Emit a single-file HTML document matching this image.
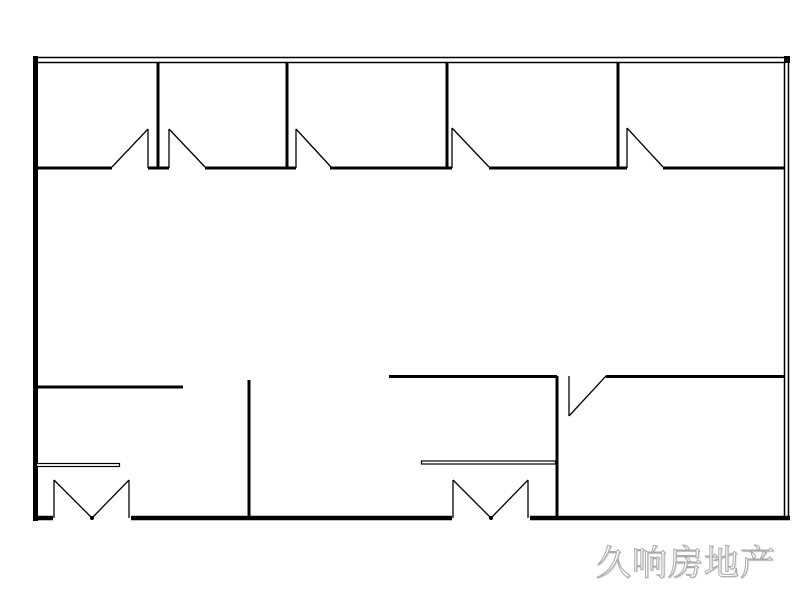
<!DOCTYPE html>
<html><head><meta charset="utf-8"><style>
html,body{margin:0;padding:0;background:#fff;width:800px;height:600px;overflow:hidden}
.wm{position:absolute;left:596px;top:536px;font-family:"Liberation Serif","Noto Serif CJK SC",serif;font-size:35px;color:#fff;-webkit-text-stroke:1px #aaa;letter-spacing:1px;text-shadow:1px 1px 1px #ccc}
</style></head><body>
<svg width="800" height="600" style="position:absolute;left:0;top:0">
<g stroke="#000" fill="none">
<!-- top double wall -->
<line x1="33" y1="57.5" x2="789" y2="57.5" stroke-width="1.5"/>
<line x1="38" y1="62.5" x2="784" y2="62.5" stroke-width="1.5"/>
<!-- right double wall -->
<line x1="784.5" y1="62" x2="784.5" y2="518" stroke-width="1.5"/>
<line x1="788.5" y1="57" x2="788.5" y2="520" stroke-width="1.5"/>
<rect x="784" y="56" width="6" height="7" fill="#000" stroke="none"/>
<!-- left wall -->
<line x1="35.5" y1="56" x2="35.5" y2="521" stroke-width="5"/>
<!-- corridor wall -->
<g stroke-width="3">
<line x1="35" y1="168" x2="112" y2="168"/>
<line x1="148" y1="168" x2="169" y2="168"/>
<line x1="205" y1="168" x2="287" y2="168"/>
<line x1="287" y1="168" x2="296" y2="168"/>
<line x1="330" y1="168" x2="452" y2="168"/>
<line x1="489" y1="168" x2="627" y2="168"/>
<line x1="663" y1="168" x2="784" y2="168"/>
<line x1="158" y1="62" x2="158" y2="168"/>
<line x1="287" y1="62" x2="287" y2="168"/>
<line x1="447" y1="62" x2="447" y2="168"/>
<line x1="618" y1="62" x2="618" y2="168"/>
</g>
<!-- door jambs/leaves top -->
<g stroke-width="1.3">
<line x1="148" y1="129" x2="148" y2="168"/><line x1="112" y1="167" x2="148" y2="129"/>
<line x1="169" y1="129" x2="169" y2="168"/><line x1="169" y1="129" x2="205" y2="167"/>
<line x1="296" y1="129" x2="296" y2="168"/><line x1="296" y1="129" x2="331" y2="167"/>
<line x1="452" y1="128" x2="452" y2="168"/><line x1="452" y1="128" x2="489" y2="167"/>
<line x1="627" y1="128" x2="627" y2="168"/><line x1="627" y1="128" x2="663" y2="167"/>
</g>
<!-- lower walls -->
<g stroke-width="3">
<line x1="35" y1="387" x2="183" y2="387"/>
<line x1="249" y1="380" x2="249" y2="518"/>
<line x1="389" y1="376.5" x2="557" y2="376.5"/>
<line x1="557" y1="376" x2="557" y2="518"/>
<line x1="606" y1="376.5" x2="784" y2="376.5"/>
</g>
<g stroke-width="4.5">
<line x1="33" y1="518" x2="53" y2="518"/>
<line x1="131" y1="518" x2="452" y2="518"/>
<line x1="530" y1="518" x2="790" y2="518"/>
</g>
<g stroke-width="1.3">
<line x1="569" y1="376" x2="569" y2="416"/><line x1="569" y1="416" x2="606" y2="376"/>
<line x1="54" y1="480" x2="54" y2="518"/><line x1="129" y1="480" x2="129" y2="518"/>
<line x1="54" y1="480" x2="92" y2="518"/><line x1="129" y1="480" x2="92" y2="518"/>
<line x1="453" y1="480" x2="453" y2="518"/><line x1="528" y1="480" x2="528" y2="518"/>
<line x1="453" y1="480" x2="491" y2="518"/><line x1="528" y1="480" x2="491" y2="518"/>
</g>
<circle cx="92" cy="518" r="2" fill="#000" stroke="none"/>
<circle cx="491" cy="518" r="2" fill="#000" stroke="none"/>
<!-- shelves -->
<rect x="36.5" y="463.5" width="83" height="3" stroke-width="1.2" fill="#fff"/>
<rect x="421.5" y="461" width="134" height="3" stroke-width="1.2" fill="#fff"/>
</g>
</svg>
<div class="wm">久响房地产</div>
</body></html>
